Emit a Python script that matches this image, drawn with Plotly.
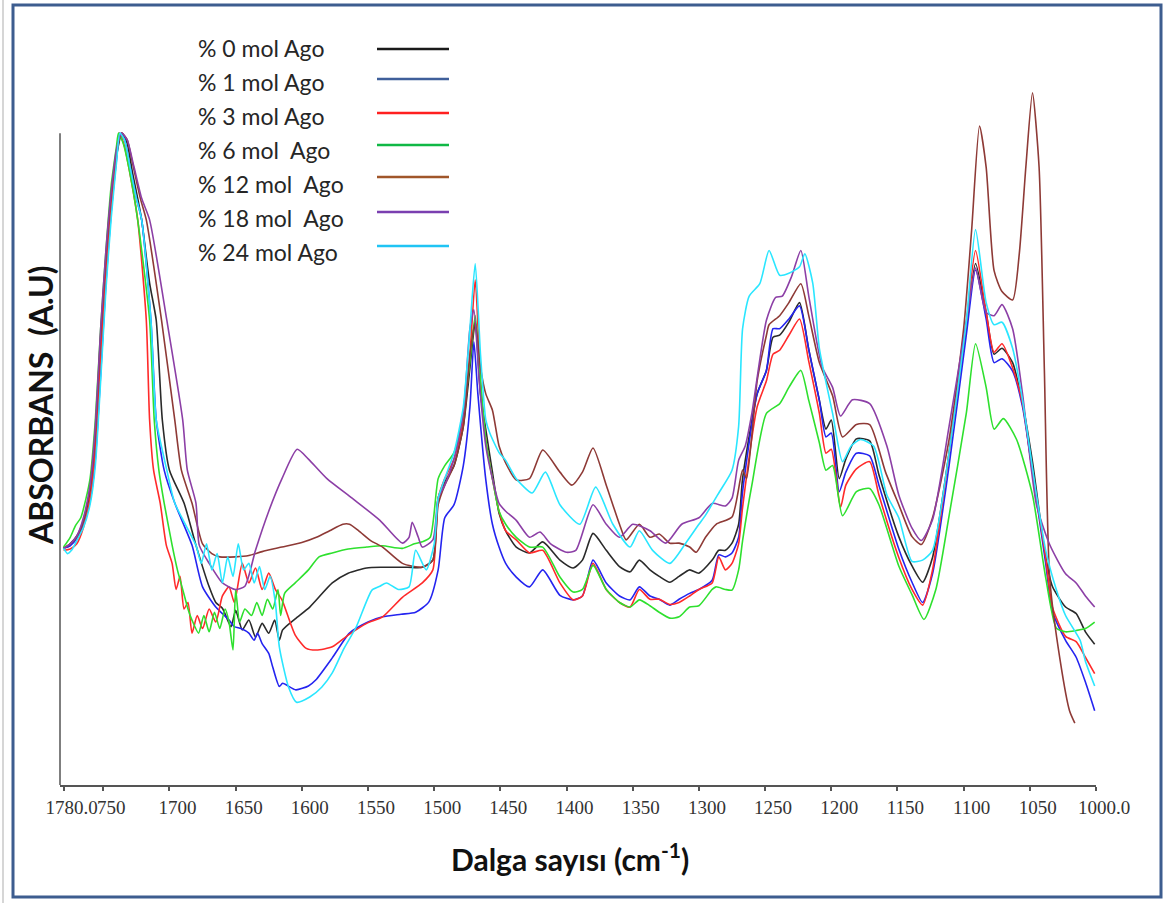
import plotly.graph_objects as go

# ---------------- data (wavenumber cm-1, absorbance A.U) ----------------
series_names = ["% 0 mol Ago", "% 1 mol Ago", "% 3 mol Ago", "% 6 mol  Ago",
                "% 12 mol  Ago", "% 18 mol  Ago", "% 24 mol Ago"]

wn_0 = [1780,1775,1770,1765,1760,1756,1752,1748,1744,1740,1736,1732,1728,1724,1721,1715,1710,1705.4,1700,1689,1680,1670,1665,1660,1653.5,1650,1645,1640,1635,1630,1625,1620.5,1617,1614.5,1605,1594,1577,1565,1551,1539,1520,1509,1501,1497,1492,1485,1478,1473,1469,1465,1461,1456,1451,1446,1438,1428,1418,1405,1395,1388,1380,1370,1360,1352,1345,1337,1330,1322,1315,1307,1300,1290,1285,1280,1275,1270,1267,1256,1249,1244,1239,1232,1224,1217,1209,1204,1200,1194,1189,1181,1171,1164,1149,1139,1131,1123.5,1111,1098,1091,1083,1077,1071,1063,1055.5,1048,1038,1033,1023,1015,1008,1001]
ab_0 = [0.363,0.37,0.382,0.405,0.45,0.53,0.68,0.80,0.90,0.965,1.0,0.985,0.94,0.90,0.867,0.77,0.713,0.56,0.483,0.4325,0.368,0.304,0.28,0.271,0.243,0.268,0.238,0.253,0.227,0.248,0.233,0.253,0.222,0.238,0.255,0.273,0.31,0.325,0.333,0.334,0.334,0.334,0.345,0.44,0.465,0.49,0.55,0.64,0.71,0.60,0.545,0.48,0.417,0.39,0.365,0.356,0.373,0.345,0.333,0.345,0.386,0.36,0.335,0.327,0.345,0.33,0.32,0.311,0.32,0.33,0.325,0.345,0.36,0.36,0.371,0.40,0.47,0.60,0.636,0.687,0.69,0.71,0.74,0.668,0.59,0.546,0.56,0.47,0.50,0.531,0.528,0.476,0.381,0.336,0.311,0.349,0.509,0.70,0.80,0.725,0.661,0.670,0.648,0.585,0.496,0.349,0.305,0.273,0.263,0.235,0.216]

wn_1 = [1780,1775,1770,1765,1760,1756,1752,1748,1744,1740,1737.5,1734,1730,1725,1721,1714,1710,1704,1696,1683,1675,1665,1660,1655,1651,1646,1640,1636,1633.5,1630,1625,1622,1617,1614.5,1604.5,1595,1589.5,1577,1564,1550,1539,1525,1514,1504,1497,1492,1485,1478,1473,1470,1467,1461,1456,1451,1446,1438,1428,1418,1405,1395,1388,1380,1370,1360,1352,1345,1337,1330,1322,1315,1307,1300,1290,1285,1280,1275,1270,1267,1256,1249,1244,1239,1232,1224,1217,1209,1204,1200,1194,1189,1181,1171,1164,1149,1139,1131,1123.5,1111,1098,1091,1083,1077,1071,1063,1055.5,1048,1038,1033,1023,1015,1008,1001]
ab_1 = [0.363,0.367,0.378,0.398,0.435,0.50,0.63,0.77,0.88,0.96,1.0,0.99,0.95,0.90,0.867,0.713,0.56,0.483,0.4325,0.368,0.304,0.273,0.263,0.253,0.243,0.24,0.233,0.222,0.233,0.217,0.202,0.181,0.151,0.156,0.146,0.152,0.161,0.195,0.233,0.25,0.258,0.262,0.265,0.281,0.33,0.41,0.43,0.49,0.58,0.68,0.60,0.468,0.40,0.365,0.34,0.319,0.304,0.33,0.291,0.284,0.29,0.345,0.31,0.29,0.284,0.304,0.29,0.285,0.276,0.285,0.294,0.30,0.314,0.353,0.35,0.356,0.38,0.45,0.60,0.636,0.70,0.70,0.715,0.735,0.668,0.59,0.534,0.54,0.45,0.48,0.509,0.505,0.46,0.362,0.311,0.28,0.324,0.49,0.69,0.79,0.715,0.648,0.654,0.635,0.58,0.48,0.34,0.267,0.222,0.196,0.158,0.114]

wn_3 = [1780,1775,1770,1765,1760,1756,1752,1748,1744,1740,1738,1734,1730,1724,1717.5,1715,1712,1707,1702.4,1698,1695,1692,1689,1686,1683,1679,1675,1670,1665,1660,1655,1651,1645,1640,1635,1630,1625,1620,1615,1605,1597,1589,1577,1565,1551,1539,1524,1509,1501,1497,1492,1485,1478,1473,1469,1465,1461,1456,1451,1446,1438,1428,1418,1405,1395,1388,1380,1370,1360,1352,1345,1337,1330,1322,1315,1307,1300,1290,1285,1280,1275,1270,1267,1256,1249,1244,1239,1232,1224,1217,1209,1204,1200,1193,1189,1181,1171,1164,1149,1139,1131,1123.5,1111,1098,1091,1083,1077,1071,1063,1055.5,1048,1038,1033,1023,1015,1008,1001]
ab_3 = [0.36,0.362,0.37,0.395,0.44,0.52,0.66,0.79,0.89,0.965,1.0,0.98,0.94,0.867,0.713,0.56,0.483,0.4325,0.368,0.34,0.30,0.32,0.27,0.28,0.233,0.26,0.24,0.27,0.25,0.29,0.304,0.28,0.34,0.31,0.333,0.30,0.325,0.30,0.284,0.23,0.21,0.207,0.212,0.23,0.248,0.258,0.288,0.31,0.33,0.44,0.47,0.50,0.56,0.66,0.775,0.62,0.53,0.47,0.42,0.39,0.376,0.356,0.36,0.31,0.284,0.29,0.34,0.30,0.28,0.273,0.30,0.285,0.285,0.277,0.28,0.29,0.30,0.31,0.35,0.33,0.34,0.37,0.426,0.58,0.62,0.661,0.667,0.69,0.715,0.65,0.57,0.509,0.515,0.426,0.46,0.485,0.496,0.445,0.349,0.30,0.276,0.33,0.509,0.71,0.82,0.725,0.664,0.677,0.64,0.585,0.48,0.349,0.273,0.228,0.22,0.196,0.171]

wn_6 = [1780,1775,1771,1767,1763,1760,1756,1752,1748,1744,1740,1738.5,1735,1730,1724,1715,1711.5,1708,1704,1698,1694,1690,1686,1683,1678,1674,1670,1666,1662,1658,1655,1652,1650,1647,1643,1638,1634,1630,1626,1622,1618,1616,1613,1605,1595,1587,1577,1565,1551,1539,1524,1515,1509,1503,1497,1492,1485,1478,1473,1469,1465,1461,1456,1451,1446,1438,1428,1418,1405,1395,1388,1380,1370,1360,1352,1345,1337,1330,1322,1315,1307,1300,1290,1287,1280,1275,1270,1267,1260,1249,1239,1232,1223,1217,1209,1204,1199,1191.5,1181,1171,1164,1149,1139,1130,1121,1111,1098,1091,1083,1077,1070,1060,1048,1038,1030,1023,1015,1008,1001]
ab_6 = [0.365,0.38,0.398,0.41,0.44,0.47,0.56,0.70,0.82,0.92,0.98,1.0,0.985,0.94,0.867,0.713,0.56,0.483,0.4325,0.368,0.33,0.30,0.27,0.253,0.233,0.26,0.235,0.265,0.24,0.27,0.25,0.207,0.30,0.25,0.27,0.26,0.28,0.26,0.285,0.27,0.30,0.26,0.294,0.31,0.33,0.35,0.356,0.362,0.365,0.367,0.363,0.37,0.373,0.38,0.47,0.49,0.51,0.57,0.65,0.72,0.62,0.53,0.47,0.42,0.40,0.38,0.365,0.365,0.319,0.296,0.30,0.337,0.30,0.28,0.273,0.284,0.275,0.265,0.256,0.258,0.273,0.275,0.30,0.304,0.30,0.299,0.33,0.375,0.46,0.57,0.585,0.61,0.636,0.59,0.525,0.483,0.49,0.413,0.45,0.455,0.43,0.336,0.292,0.254,0.30,0.413,0.57,0.677,0.61,0.546,0.562,0.53,0.445,0.318,0.241,0.235,0.237,0.24,0.25]

wn_12 = [1780,1775,1770,1765,1760,1756,1752,1748,1744,1740,1736,1732,1728,1722,1717.5,1706,1696,1691,1683,1675,1668,1662,1650,1640,1630,1615,1600,1589,1579,1569,1564,1557,1548,1539,1524,1509,1501,1497,1492,1485,1478,1473,1469,1465,1461,1456,1451,1446,1438,1428,1418,1405,1396,1388,1380,1370,1360,1355,1345,1337,1330,1322,1315,1307,1302,1295,1287,1275,1267,1264,1256,1249,1247,1239,1232,1223,1217,1209,1199,1191.5,1181,1171,1159,1149,1139,1132,1123.5,1111,1100,1094,1088,1083,1077,1071,1063,1058,1053,1048,1043,1039,1035,1027,1020,1016]
ab_12 = [0.363,0.37,0.38,0.405,0.455,0.54,0.69,0.81,0.905,0.97,1.0,0.99,0.955,0.90,0.867,0.713,0.56,0.483,0.4325,0.37,0.355,0.35,0.35,0.352,0.358,0.365,0.372,0.38,0.39,0.40,0.40,0.39,0.375,0.365,0.34,0.334,0.345,0.43,0.46,0.49,0.55,0.66,0.71,0.64,0.60,0.575,0.52,0.494,0.468,0.47,0.514,0.48,0.46,0.48,0.517,0.46,0.40,0.376,0.40,0.38,0.385,0.371,0.371,0.365,0.357,0.38,0.40,0.411,0.483,0.47,0.62,0.69,0.706,0.72,0.74,0.769,0.72,0.648,0.597,0.534,0.553,0.553,0.48,0.43,0.381,0.369,0.41,0.53,0.70,0.85,1.011,0.948,0.789,0.757,0.744,0.814,0.948,1.062,0.948,0.636,0.318,0.19,0.114,0.095]

wn_18 = [1780,1775,1770,1765,1760,1756,1752,1748,1744,1740,1736,1732,1727,1721,1715,1702,1690,1686.5,1680,1677.5,1670,1660,1650,1643,1635,1625,1615,1603.5,1595,1581,1562,1541,1524,1519,1516.6,1512,1509,1501,1497,1492,1485,1478,1473,1470,1466,1461,1456,1451,1446,1438,1428,1420,1412,1400,1393,1380,1370,1360,1350,1337,1325,1313,1300,1290,1280,1275,1270,1265,1260,1249,1242,1237,1230,1223,1217,1207,1199,1193,1184,1171,1158,1149,1139,1132,1123.5,1111,1098,1091,1083,1077,1071,1063,1055.5,1045,1035,1023,1015,1008,1001]
ab_18 = [0.363,0.37,0.382,0.41,0.46,0.55,0.70,0.82,0.91,0.975,1.0,0.99,0.95,0.90,0.867,0.713,0.56,0.483,0.4325,0.368,0.34,0.31,0.30,0.305,0.36,0.42,0.47,0.515,0.50,0.47,0.44,0.406,0.371,0.38,0.403,0.38,0.365,0.376,0.44,0.46,0.50,0.57,0.70,0.729,0.62,0.52,0.47,0.432,0.42,0.406,0.38,0.388,0.37,0.357,0.36,0.43,0.40,0.38,0.40,0.39,0.371,0.40,0.41,0.432,0.428,0.44,0.498,0.52,0.57,0.713,0.748,0.75,0.78,0.82,0.75,0.642,0.61,0.566,0.591,0.585,0.52,0.445,0.394,0.375,0.407,0.55,0.71,0.793,0.725,0.72,0.737,0.70,0.60,0.43,0.369,0.324,0.31,0.29,0.273]

wn_24 = [1780,1777,1774,1770,1765,1760,1756,1752,1748,1744,1740,1737.5,1734,1730,1725,1721,1714,1710,1702,1696,1680,1676,1672,1668,1664,1660,1656,1652,1648,1644,1640,1636,1632,1628,1624,1620,1617,1610,1604,1594,1585,1577,1568,1559,1547,1541,1536,1527,1519,1514,1506,1500,1497,1492,1485,1478,1473,1469,1465,1461,1458,1451,1446,1438,1426,1416,1405,1390,1378,1365,1352,1345,1335,1322,1310,1300,1295,1285,1275,1270,1267,1262,1254,1247,1239,1232,1224,1220,1214,1209,1199,1191.5,1185,1178,1168,1158,1149,1139,1131,1123.5,1111,1098,1091,1083,1077,1071,1063,1055.5,1045,1038,1030,1023,1012,1008,1001]
ab_24 = [0.363,0.355,0.36,0.375,0.395,0.43,0.49,0.62,0.76,0.87,0.955,1.0,0.99,0.95,0.90,0.867,0.713,0.56,0.483,0.4325,0.368,0.34,0.37,0.33,0.355,0.31,0.35,0.32,0.37,0.33,0.34,0.31,0.335,0.30,0.32,0.28,0.212,0.15,0.127,0.135,0.15,0.172,0.21,0.242,0.299,0.305,0.31,0.30,0.304,0.36,0.33,0.37,0.44,0.47,0.51,0.58,0.70,0.80,0.66,0.56,0.54,0.51,0.498,0.47,0.448,0.48,0.43,0.40,0.457,0.40,0.365,0.39,0.36,0.34,0.371,0.40,0.414,0.448,0.483,0.55,0.70,0.75,0.769,0.82,0.782,0.785,0.795,0.815,0.77,0.67,0.57,0.496,0.52,0.53,0.52,0.445,0.41,0.343,0.345,0.36,0.51,0.71,0.852,0.74,0.706,0.71,0.67,0.59,0.445,0.36,0.30,0.26,0.222,0.19,0.152]

line_colors = ["#2a2a2a", "#2424f0", "#ff2a2a", "#2ee02e", "#8e3a36", "#8c3fa6", "#2ae6ff"]
legend_colors = ["#1a1a1a", "#3f5f9a", "#ff2020", "#10b845", "#a0562a", "#7a3fb0", "#20c4f4"]

tick_vals = [1780, 1750, 1700, 1650, 1600, 1550, 1500, 1450, 1400, 1350, 1300, 1250, 1200, 1150, 1100, 1050, 1000]
tick_text = ["1780.0", "750", "1700", "1650", "1600", "1550", "1500", "1450", "1400", "1350", "1300", "1250", "1200", "1150", "1100", "1050", "1000.0"]

# ---------------- figure ----------------
W, H = 1166, 903
L, R, T, B = 60, 70, 81, 118
PW, PH = W - L - R, H - T - B

def px(x):
    return (x - L) / PW

def py(y):
    return (H - B - y) / PH

xs = [wn_0, wn_1, wn_3, wn_6, wn_12, wn_18, wn_24]
ys = [ab_0, ab_1, ab_3, ab_6, ab_12, ab_18, ab_24]

fig = go.Figure()
for name, x, y, c in zip(series_names, xs, ys, line_colors):
    fig.add_trace(go.Scatter(x=x, y=y, mode="lines", name=name,
                             line=dict(color=c, width=1.6, shape="spline", smoothing=0.6),
                             showlegend=False))

shapes = []
annotations = []
# y axis line (from 0 to 1 absorbance)
shapes.append(dict(type="line", xref="paper", yref="y", x0=0, x1=0, y0=0, y1=1.0,
                   line=dict(color="#555555", width=1.5)))
# outer frame lines
shapes.append(dict(type="line", xref="paper", yref="paper", x0=px(3), x1=px(3), y0=py(903), y1=py(0),
                   line=dict(color="#c8c8c8", width=1.5)))
shapes.append(dict(type="rect", xref="paper", yref="paper",
                   x0=px(13), x1=px(1161), y0=py(897), y1=py(5),
                   line=dict(color="#3d5d8f", width=3)))

# legend (text then line sample)
leg_text_y = [48, 82, 116, 150, 184, 218, 252]
leg_line_y = [49, 79, 113, 145, 177, 212, 246]
for i, name in enumerate(series_names):
    annotations.append(dict(text=name, xref="paper", yref="paper", x=px(196), y=py(leg_text_y[i]),
                            xanchor="left", yanchor="middle", showarrow=False,
                            font=dict(family="Lato, Liberation Sans, sans-serif", size=23, color="#262626")))
    shapes.append(dict(type="line", xref="paper", yref="paper", x0=px(377), x1=px(449),
                       y0=py(leg_line_y[i]), y1=py(leg_line_y[i]),
                       line=dict(color=legend_colors[i], width=2.5)))

# axis titles
annotations.append(dict(text="<b>Dalga sayısı (cm<sup>-1</sup>)</b>", xref="paper", yref="paper",
                        x=px(570), y=py(857), xanchor="center", yanchor="middle", showarrow=False,
                        font=dict(family="Lato, Liberation Sans, sans-serif", size=30, color="#111111")))
annotations.append(dict(text="<b>ABSORBANS  (A.U)</b>", xref="paper", yref="paper",
                        x=px(40), y=py(405), xanchor="center", yanchor="middle", showarrow=False,
                        textangle=-90,
                        font=dict(family="Lato, Liberation Sans, sans-serif", size=32, color="#111111")))

fig.update_layout(
    width=W, height=H,
    margin=dict(l=L, r=R, t=T, b=B),
    paper_bgcolor="white", plot_bgcolor="white",
    shapes=shapes, annotations=annotations,
    xaxis=dict(range=[1782.7, 1000], showgrid=False, zeroline=False,
               showline=True, linecolor="#555555", linewidth=1.5,
               ticks="outside", ticklen=4, tickcolor="#555555", tickwidth=1.5,
               tickvals=tick_vals, ticktext=tick_text, tickangle=0,
               ticklabelshift=-8,
               tickfont=dict(family="Liberation Serif, Times New Roman, serif", size=19, color="#333333")),
    yaxis=dict(range=[0, 1.08], showgrid=False, zeroline=False, showline=False,
               showticklabels=False, ticks=""),
)

fig.write_html("out.html", config={"displayModeBar": False})
